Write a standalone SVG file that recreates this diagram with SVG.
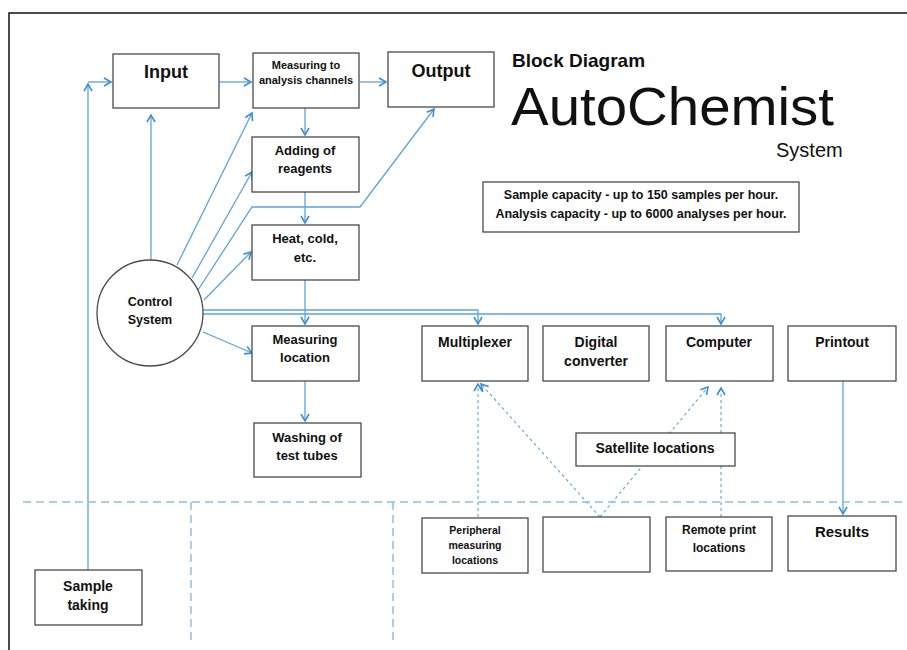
<svg xmlns="http://www.w3.org/2000/svg" width="907" height="650" viewBox="0 0 907 650">
<style>
.box{fill:#fff;stroke:#4a4a4a;stroke-width:1.3}
.t{font-family:"Liberation Sans",Arial,sans-serif;font-weight:bold;fill:#111;text-anchor:middle}
.c{fill:none;stroke:#5ea3d8;stroke-width:1.3}
.d{fill:none;stroke:#6aaede;stroke-width:1.2;stroke-dasharray:3,3}
.g{fill:none;stroke:#8cc0e6;stroke-width:1.5;stroke-dasharray:8,5}
</style>
<defs>
<marker id="a" markerWidth="10" markerHeight="10" refX="8" refY="5" orient="auto" markerUnits="userSpaceOnUse">
<path d="M1,1 L8,5 L1,9" fill="none" stroke="#3d8fd0" stroke-width="1.6"/>
</marker>
</defs>
<rect width="907" height="650" fill="#fff"/>
<path d="M9,660 V13 H920" fill="none" stroke="#111" stroke-width="1.5"/>

<g id="title">
<text x="512" y="67" font-family="'Liberation Sans',Arial,sans-serif" font-weight="bold" font-size="19" fill="#111">Block Diagram</text>
<text x="511" y="125" font-family="'Liberation Sans',Arial,sans-serif" font-size="53" fill="#111" textLength="323" lengthAdjust="spacingAndGlyphs">AutoChemist</text>
<text x="776" y="157" font-family="'Liberation Sans',Arial,sans-serif" font-size="20" fill="#111">System</text>
</g>

<g id="capacity">
<rect class="box" x="483" y="182" width="316" height="50"/>
<text class="t" x="641" y="199" font-size="12.5">Sample capacity - up to 150 samples per hour.</text>
<text class="t" x="641" y="218" font-size="12.5">Analysis capacity - up to 6000 analyses per hour.</text>
</g>

<g id="connectors">
<path class="c" d="M88,570 V84" marker-end="url(#a)"/>
<path class="c" d="M88,82 H111" marker-end="url(#a)"/>
<path class="c" d="M220,82 H251" marker-end="url(#a)"/>
<path class="c" d="M360,82 H386" marker-end="url(#a)"/>
<path class="c" d="M151,261 V115" marker-end="url(#a)"/>
<path class="c" d="M305,108 V135" marker-end="url(#a)"/>
<path class="c" d="M305,192 V223" marker-end="url(#a)"/>
<path class="c" d="M305,280 V324" marker-end="url(#a)"/>
<path class="c" d="M305,381 V421" marker-end="url(#a)"/>
<path class="c" d="M177,265 L252,113" marker-end="url(#a)"/>
<path class="c" d="M192,278 L252,172" marker-end="url(#a)"/>
<path class="c" d="M198,290 L252,207 H360 L434,109" marker-end="url(#a)"/>
<path class="c" d="M204,300 L251,252" marker-end="url(#a)"/>
<path class="c" d="M203,332 L252,353" marker-end="url(#a)"/>
<path class="c" d="M202,310 H478 V324" marker-end="url(#a)"/>
<path class="c" d="M202,314 H721 V324" marker-end="url(#a)"/>
<path class="c" d="M843,381 V514" marker-end="url(#a)"/>
<path class="d" d="M478,517 V384" marker-end="url(#a)"/>
<path class="d" d="M600,517 L481,384" marker-end="url(#a)"/>
<path class="d" d="M600,517 L708,387" marker-end="url(#a)"/>
<path class="d" d="M721,517 V388" marker-end="url(#a)"/>
<path class="g" d="M23,502 H907"/>
<path class="g" d="M191,502 V642"/>
<path class="g" d="M393,502 V642"/>
</g>

<g id="input"><rect class="box" x="113" y="54" width="106" height="54"/><text class="t" x="166" y="78" font-size="18">Input</text></g>
<g id="measuring-channels"><rect class="box" x="253" y="53" width="106" height="55"/><text class="t" x="306" y="69" font-size="11">Measuring to</text><text class="t" x="306" y="84" font-size="11">analysis channels</text></g>
<g id="output"><rect class="box" x="388" y="52" width="106" height="55"/><text class="t" x="441" y="77" font-size="18">Output</text></g>
<g id="adding"><rect class="box" x="252" y="137" width="107" height="55"/><text class="t" x="305" y="155" font-size="13">Adding of</text><text class="t" x="305" y="173" font-size="13">reagents</text></g>
<g id="heat"><rect class="box" x="252" y="225" width="107" height="55"/><text class="t" x="305" y="243" font-size="13">Heat, cold,</text><text class="t" x="305" y="262" font-size="13">etc.</text></g>
<g id="control"><circle cx="150" cy="313" r="53" fill="#fff" stroke="#4a4a4a" stroke-width="1.3"/><text class="t" x="150" y="306" font-size="12.5">Control</text><text class="t" x="150" y="324" font-size="12.5">System</text></g>
<g id="measuring-location"><rect class="box" x="252" y="326" width="107" height="55"/><text class="t" x="305" y="344" font-size="13">Measuring</text><text class="t" x="305" y="362" font-size="13">location</text></g>
<g id="washing"><rect class="box" x="254" y="423" width="107" height="54"/><text class="t" x="307" y="442" font-size="13">Washing of</text><text class="t" x="307" y="460" font-size="13">test tubes</text></g>
<g id="multiplexer"><rect class="box" x="422" y="326" width="106" height="55"/><text class="t" x="475" y="347" font-size="14">Multiplexer</text></g>
<g id="digital"><rect class="box" x="543" y="326" width="106" height="55"/><text class="t" x="596" y="347" font-size="14">Digital</text><text class="t" x="596" y="366" font-size="14">converter</text></g>
<g id="computer"><rect class="box" x="666" y="326" width="107" height="55"/><text class="t" x="719" y="347" font-size="14">Computer</text></g>
<g id="printout"><rect class="box" x="788" y="326" width="108" height="55"/><text class="t" x="842" y="347" font-size="14">Printout</text></g>
<g id="satellite"><rect class="box" x="576" y="433" width="159" height="33"/><text class="t" x="655" y="453" font-size="14">Satellite locations</text></g>
<g id="peripheral"><rect class="box" x="422" y="518" width="106" height="55"/><text class="t" x="475" y="534" font-size="10.5">Peripheral</text><text class="t" x="475" y="549" font-size="10.5">measuring</text><text class="t" x="475" y="564" font-size="10.5">locations</text></g>
<g id="blank"><rect class="box" x="543" y="517" width="107" height="55"/></g>
<g id="remote-print"><rect class="box" x="666" y="517" width="106" height="54"/><text class="t" x="719" y="534" font-size="12">Remote print</text><text class="t" x="719" y="552" font-size="12">locations</text></g>
<g id="results"><rect class="box" x="788" y="516" width="108" height="55"/><text class="t" x="842" y="537" font-size="15">Results</text></g>
<g id="sample-taking"><rect class="box" x="35" y="570" width="107" height="55"/><text class="t" x="88" y="591" font-size="14">Sample</text><text class="t" x="88" y="610" font-size="14">taking</text></g>
</svg>
